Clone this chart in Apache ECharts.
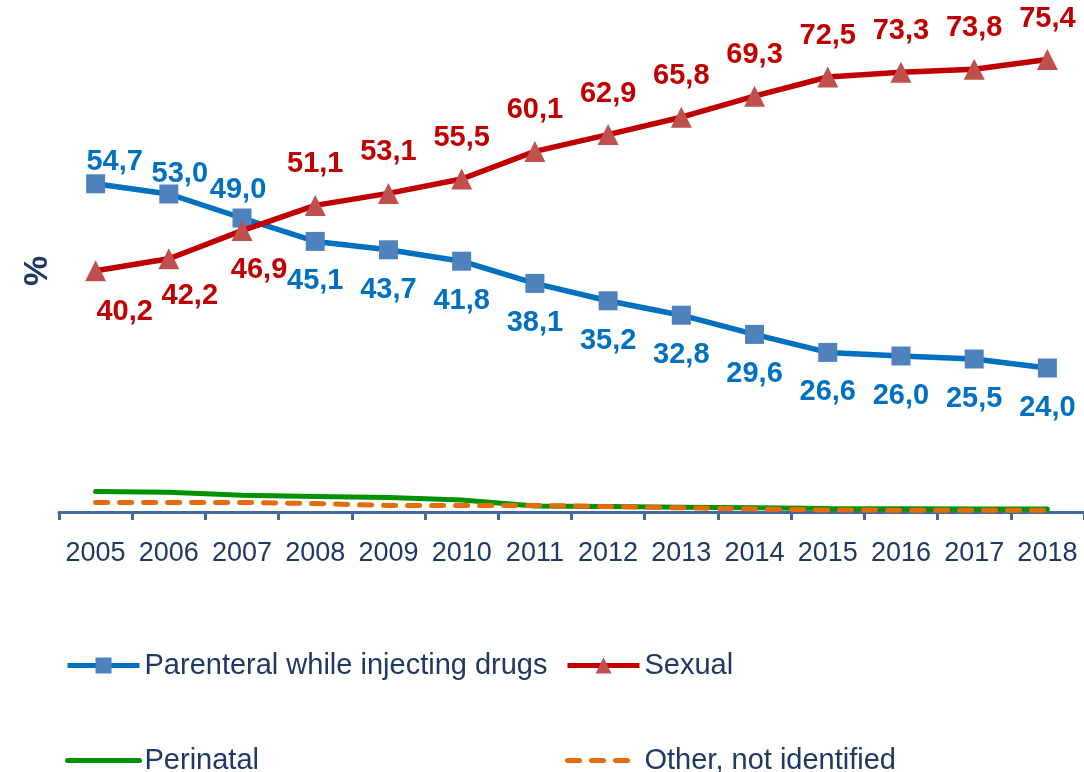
<!DOCTYPE html>
<html>
<head>
<meta charset="utf-8">
<script src="https://cdn.jsdelivr.net/npm/echarts@6/dist/echarts.min.js"></script>
<style>
  html, body { margin: 0; padding: 0; background: #fff; }
  #chart { width: 1084px; height: 772px; }
</style>
</head>
<body>
<div id="chart"></div>
<script>
// values
var years = ["2005", "2006", "2007", "2008", "2009", "2010", "2011",
  "2012", "2013", "2014", "2015", "2016", "2017", "2018"];
var parenteral = [54.7, 53.0, 49.0, 45.1, 43.7, 41.8, 38.1, 35.2, 32.8, 29.6, 26.6, 26.0, 25.5, 24.0];
var sexual = [40.2, 42.2, 46.9, 51.1, 53.1, 55.5, 60.1, 62.9, 65.8, 69.3, 72.5, 73.3, 73.8, 75.4];
var perinatal = [3.4, 3.3, 2.8, 2.6, 2.4, 2.0, 1.0, 0.9, 0.8, 0.7, 0.6, 0.55, 0.5, 0.5];
var other = [1.6, 1.6, 1.6, 1.4, 1.1, 1.1, 1.1, 0.9, 0.7, 0.5, 0.35, 0.3, 0.3, 0.3];

var navy = "#203864";
var font = "'Liberation Sans', Arial, sans-serif";

// label placement: which side of the point, plus small nudges for the crowded start
var bluePos = ["top", "top", "top"];
var blueNudge = [[19, 18], [11, 20], [-4, 12]];
var redPos = ["bottom", "bottom", "bottom"];
var redNudge = [[29, 0], [21, -4], [17, -2]];

function fmt(v) {
  return v.toFixed(1).replace(".", ",");
}

function withLabels(values, pos, nudge, restPos) {
  return values.map(function (v, i) {
    var item = { value: v, label: { position: pos[i] || restPos } };
    if (nudge[i]) item.label.offset = nudge[i];
    return item;
  });
}

// one legend per entry so the 2x2 grid lands where the reference has it
function legendAt(name, left, top, hideSymbol) {
  var item = { name: name };
  if (hideSymbol) item.itemStyle = { opacity: 0 };
  return {
    left: left,
    top: top,
    padding: 0,
    itemWidth: 72,
    itemHeight: 20,
    data: [item],
    lineStyle: { width: 5 },
    textStyle: { color: navy, fontSize: 29, fontFamily: font, lineHeight: 28 }
  };
}

var chart = echarts.init(document.getElementById("chart"));

chart.setOption({
  animation: false,
  backgroundColor: "#fff",
  grid: { left: 59, right: 0, top: 32, bottom: 260 },
  xAxis: {
    type: "category",
    data: years,
    boundaryGap: true,
    axisLine: { lineStyle: { color: "#44699c", width: 3 } },
    axisTick: { show: true, length: 8, lineStyle: { color: "#44699c", width: 3 } },
    axisLabel: { color: navy, fontSize: 27, fontFamily: font, margin: 28, interval: 0 }
  },
  yAxis: {
    type: "value",
    min: 0,
    max: 80,
    show: false,
    splitLine: { show: false }
  },
  legend: [
    legendAt("Parenteral while injecting drugs", 65, 651, false),
    legendAt("Sexual", 565, 651, false),
    legendAt("Perinatal", 65, 746, true),
    legendAt("Other, not identified", 565, 746, true)
  ],
  graphic: [
    {
      type: "text",
      x: 38,
      y: 271,
      rotation: Math.PI / 2,
      style: {
        text: "%",
        fill: navy,
        font: "bold 34px " + font,
        align: "center",
        verticalAlign: "middle"
      }
    }
  ],
  series: [
    {
      name: "Perinatal",
      type: "line",
      data: perinatal,
      symbol: "none",
      z: 2,
      color: "#009200",
      lineStyle: { color: "#009200", width: 5, cap: "round" }
    },
    {
      name: "Other, not identified",
      type: "line",
      data: other,
      symbol: "none",
      z: 3,
      color: "#e46c0a",
      lineStyle: { color: "#e46c0a", width: 5, type: [12, 12], cap: "round" }
    },
    {
      name: "Parenteral while injecting drugs",
      type: "line",
      data: withLabels(parenteral, bluePos, blueNudge, "bottom"),
      symbol: "rect",
      symbolSize: 19,
      z: 4,
      color: "#4f81bd",
      itemStyle: { color: "#4f81bd" },
      lineStyle: { color: "#0070c0", width: 5.5 },
      label: {
        show: true,
        distance: 16,
        color: "#0070c0",
        fontSize: 29,
        fontWeight: "bold",
        fontFamily: font,
        formatter: function (p) { return fmt(p.value); }
      }
    },
    {
      name: "Sexual",
      type: "line",
      data: withLabels(sexual, redPos, redNudge, "top"),
      symbol: "triangle",
      symbolSize: 21,
      z: 5,
      color: "#c0504d",
      itemStyle: { color: "#c0504d" },
      lineStyle: { color: "#c00000", width: 5.5 },
      label: {
        show: true,
        distance: 16,
        color: "#c00000",
        fontSize: 29,
        fontWeight: "bold",
        fontFamily: font,
        formatter: function (p) { return fmt(p.value); }
      }
    }
  ]
});
</script>
</body>
</html>
